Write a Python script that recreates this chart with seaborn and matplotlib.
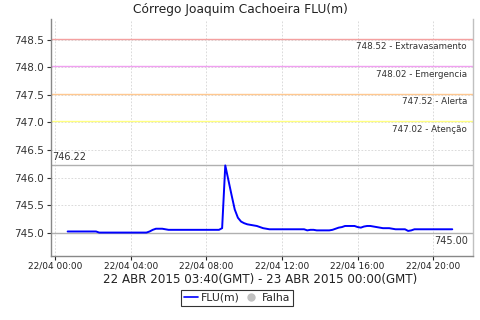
import matplotlib
matplotlib.use("Agg")
import matplotlib.pyplot as plt
import matplotlib.dates as mdates
from matplotlib.lines import Line2D
import seaborn as sns
import pandas as pd

# ---- data ----
start_time = "2015-04-22 00:40"
end_time = "2015-04-22 21:00"
flu_values = (
    [745.02] * 10
    + [745.00] * 16
    + [745.02, 745.05, 745.07, 745.07, 745.07, 745.06]
    + [745.05] * 17
    + [745.08, 746.22, 745.95, 745.68, 745.42, 745.27, 745.20, 745.17, 745.15,
       745.14, 745.13, 745.12, 745.10, 745.08, 745.07, 745.06]
    + [745.06] * 11
    + [745.04, 745.05, 745.05, 745.04, 745.04, 745.04, 745.04, 745.04, 745.05,
       745.07, 745.09, 745.10, 745.12, 745.12, 745.12, 745.12, 745.10, 745.09,
       745.11, 745.12, 745.12, 745.11, 745.10, 745.09, 745.08, 745.08, 745.08,
       745.07, 745.06, 745.06, 745.06, 745.06, 745.03, 745.04]
    + [745.06] * 13
)
threshold_values = [748.52, 748.02, 747.52, 747.02]
threshold_names = ["Extravasamento", "Emergencia", "Alerta", "Atenção"]
threshold_colors = ["#f4a0a0", "#f0a0f0", "#ffc890", "#ffff80"]
max_value = 746.22
min_value = 745.00
title = "Córrego Joaquim Cachoeira FLU(m)"
subtitle = "22 ABR 2015 03:40(GMT) - 23 ABR 2015 00:00(GMT)"
legend_labels = ["FLU(m)", "Falha"]

times = pd.date_range(start_time, end_time, freq="10min")
df = pd.DataFrame({"time": times, "FLU(m)": flu_values})

sns.set_theme(style="white")
plt.rcParams["font.family"] = ["DejaVu Sans"]

fig = plt.figure(figsize=(4.8, 3.2), dpi=100)
ax = fig.add_axes([50.5 / 480, (320 - 255.7) / 320, 422 / 480, 236.2 / 320])

# threshold lines and labels
for v, n, c in zip(threshold_values, threshold_names, threshold_colors):
    ax.axhline(v, color=c, lw=1.0, zorder=2)
    ax.annotate(f"{v:.2f} - {n}", xy=(0.987, v), xycoords=("axes fraction", "data"),
                xytext=(0, -8), textcoords="offset pixels", ha="right", va="center",
                fontsize=6.3, color="#333333")

ax.axhline(max_value, color="#b0b0b0", lw=1.0, zorder=2)
ax.annotate(f"{max_value:.2f}", xy=(0.004, max_value), xycoords=("axes fraction", "data"),
            xytext=(0, 8.5), textcoords="offset pixels", ha="left", va="center",
            fontsize=7, color="#333333")
ax.axhline(min_value, color="#b0b0b0", lw=1.0, zorder=2)
ax.annotate(f"{min_value:.2f}", xy=(0.99, min_value), xycoords=("axes fraction", "data"),
            xytext=(0, -8), textcoords="offset pixels", ha="right", va="center",
            fontsize=7, color="#333333")

sns.lineplot(data=df, x="time", y="FLU(m)", ax=ax, color="#0000ff", lw=1.4, zorder=3)

x0 = pd.Timestamp("2015-04-22 00:00")
ax.set_xlim(x0 - pd.Timedelta(hours=0.24), x0 + pd.Timedelta(hours=22.07))
ax.set_ylim(744.58, 748.87)
ax.set_yticks([745.0, 745.5, 746.0, 746.5, 747.0, 747.5, 748.0, 748.5])
ax.yaxis.set_major_formatter(plt.FuncFormatter(lambda v, p: f"{v:.1f}"))
ax.xaxis.set_major_locator(mdates.HourLocator(byhour=range(0, 24, 4)))
ax.xaxis.set_major_formatter(mdates.DateFormatter("%d/%m %H:%M"))

ax.grid(True, color="#d4d4d4", lw=0.6, ls=(0, (2, 2)), zorder=0)
ax.set_xlabel("")
ax.set_ylabel("")
ax.tick_params(axis="y", labelsize=7.5, colors="#333333", length=3, width=0.8,
               direction="out", left=True, pad=2)
ax.tick_params(axis="x", labelsize=6.5, colors="#222222", length=3, width=0.8,
               direction="out", bottom=True, pad=1.5)
for s in ["left", "bottom"]:
    ax.spines[s].set_color("#888888")
    ax.spines[s].set_linewidth(1.0)
ax.spines["right"].set_color("#c0c0c0")
ax.spines["right"].set_linewidth(1.0)
ax.spines["top"].set_visible(False)

fig.text(240 / 480, 1 - 9 / 320, title, ha="center", va="center", fontsize=8.8, color="#222222")
fig.text(260 / 480, 1 - 279.5 / 320, subtitle, ha="center", va="center", fontsize=8.6, color="#222222")

handles = [Line2D([], [], color="#0000ff", lw=1.2),
           Line2D([], [], color="#c0c0c0", marker="o", ls="", markersize=5)]
leg = fig.legend(handles, legend_labels, loc="center", bbox_to_anchor=(237 / 480, 1 - 298 / 320),
                 ncol=2, fontsize=7.8, frameon=True, fancybox=False, handlelength=1.3,
                 handletextpad=0.3, columnspacing=0.4, borderpad=0.25, borderaxespad=0)
leg.get_frame().set_edgecolor("black")
leg.get_frame().set_linewidth(0.8)

fig.savefig("out.png", dpi=100)
